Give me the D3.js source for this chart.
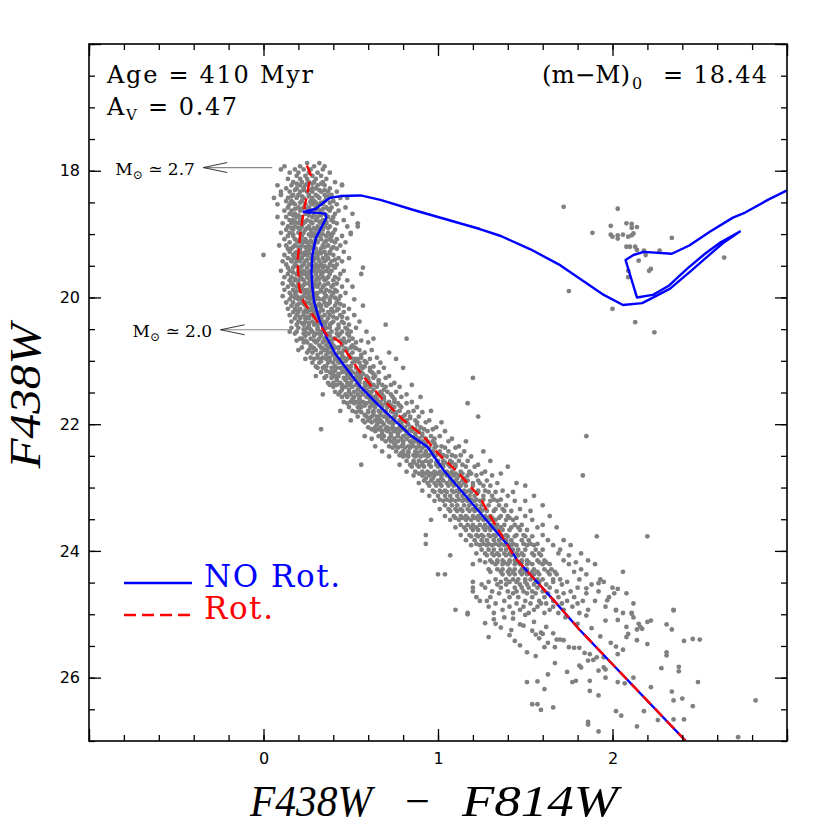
<!DOCTYPE html>
<html><head><meta charset="utf-8">
<script src="https://cdn.jsdelivr.net/npm/d3@7/dist/d3.min.js"></script>
<style>body{margin:0;background:#fff}</style>
</head><body>
<svg id="chart" width="830" height="830"></svg>
<script>
// ---------- data ----------
const xTickLabels = [0, 1, 2];
const yTickLabels = [18, 20, 22, 24, 26];

// isochrone without rotation: [colour, magnitude]
const noRot = [[2.42,27.0],[1.81,25.24],[1.67,24.80],[1.455,24.15],[1.40,23.91],[1.17,23.17],[1.03,22.72],[0.94,22.36],[0.84,22.17],[0.67,21.73],[0.556,21.41],[0.48,21.14],[0.41,20.88],[0.36,20.62],[0.32,20.35],[0.29,20.07],[0.28,19.85],[0.275,19.6],[0.28,19.33],[0.30,19.06],[0.34,18.85],[0.36,18.74],[0.355,18.68],[0.32,18.665],[0.26,18.66],[0.23,18.65],[0.30,18.60],[0.34,18.51],[0.38,18.43],[0.44,18.40],[0.556,18.39],[0.67,18.46],[0.86,18.62],[1.05,18.77],[1.24,18.92],[1.36,19.03],[1.53,19.24],[1.70,19.49],[1.95,19.96],[2.06,20.12],[2.17,20.09],[2.24,19.99],[2.33,19.86],[2.45,19.58],[2.55,19.34],[2.63,19.15],[2.73,18.96],[2.62,19.13],[2.53,19.31],[2.43,19.54],[2.32,19.82],[2.23,19.96],[2.14,20.0],[2.075,19.41],[2.12,19.33],[2.18,19.28],[2.34,19.31],[2.44,19.18],[2.56,18.96],[2.69,18.74],[2.76,18.66],[2.89,18.46],[3.05,18.24]];

// isochrone with rotation
const rot = [[2.42,27.0],[1.81,25.24],[1.67,24.80],[1.455,24.15],[1.415,23.99],[1.28,23.36],[1.24,23.15],[1.11,22.75],[1.0,22.46],[0.92,22.2],[0.80,21.93],[0.67,21.57],[0.556,21.19],[0.48,20.88],[0.44,20.71],[0.41,20.65],[0.37,20.62],[0.33,20.46],[0.28,20.27],[0.23,20.07],[0.205,19.85],[0.195,19.44],[0.21,19.01],[0.23,18.65],[0.255,18.30],[0.27,18.06],[0.24,17.86]];

// observed stars: [magnitude, [colours]]
const starRows = [
[17.88,[0.25,0.32]],
[17.93,[0.12,0.21,0.29,0.35]],
[17.98,[0.10,0.18,0.23,0.27,0.34]],
[18.03,[0.15,0.20,0.26,0.31,0.38]],
[18.08,[0.19,0.24,0.28,0.33]],
[18.13,[0.14,0.21,0.25,0.30,0.36]],
[18.18,[0.17,0.22,0.26,0.29,0.34,0.41]],
[18.23,[0.08,0.16,0.21,0.24,0.31,0.35,0.45]],
[18.28,[0.13,0.19,0.23,0.28,0.30,0.38]],
[18.33,[0.10,0.15,0.21,0.25,0.28,0.33,0.37,0.42]],
[18.38,[0.10,0.17,0.20,0.26,0.30,0.35,0.39]],
[18.43,[0.06,0.14,0.19,0.23,0.28,0.32,0.36,0.44,0.48]],
[18.48,[0.13,0.16,0.22,0.27,0.29,0.35,0.40]],
[18.53,[0.08,0.15,0.18,0.24,0.28,0.31,0.34,0.42]],
[18.58,[0.14,0.20,0.23,0.26,0.30,0.36,0.39,0.47]],
[18.63,[0.12,0.16,0.21,0.27,0.29,0.33,0.38,0.43]],
[18.68,[0.15,0.18,0.24,0.26,0.32,0.35,0.41,0.51]],
[18.73,[0.08,0.13,0.19,0.22,0.28,0.31,0.37,0.40]],
[18.78,[0.15,0.17,0.21,0.25,0.30,0.34,0.39,0.46]],
[18.83,[0.11,0.16,0.20,0.23,0.28,0.33,0.36,0.42,0.54]],
[18.88,[0.14,0.18,0.22,0.26,0.31,0.35,0.38,0.48]],
[18.93,[0.13,0.17,0.21,0.24,0.27,0.30,0.34,0.41]],
[18.98,[0.10,0.15,0.20,0.23,0.28,0.32,0.37,0.40,0.50]],
[19.03,[0.14,0.17,0.22,0.27,0.29,0.32,0.36,0.39,0.45]],
[19.08,[0.12,0.18,0.21,0.24,0.30,0.33,0.38,0.42]],
[19.13,[0.15,0.20,0.23,0.25,0.28,0.31,0.35,0.41,0.47]],
[19.18,[0.09,0.13,0.18,0.22,0.26,0.29,0.34,0.37,0.44]],
[19.23,[0.14,0.16,0.21,0.25,0.27,0.30,0.33,0.39,0.42]],
[19.28,[0.15,0.19,0.21,0.24,0.26,0.32,0.35,0.38,0.46]],
[19.33,[0.00,0.12,0.17,0.20,0.23,0.25,0.28,0.31,0.36,0.40]],
[19.38,[0.14,0.18,0.22,0.27,0.29,0.31,0.34,0.37,0.43,0.49]],
[19.43,[0.11,0.16,0.19,0.21,0.24,0.28,0.32,0.35,0.39,0.45]],
[19.48,[0.13,0.18,0.23,0.26,0.27,0.30,0.33,0.38,0.42]],
[19.53,[0.14,0.17,0.21,0.25,0.29,0.31,0.34,0.37,0.41,0.57]],
[19.58,[0.10,0.15,0.20,0.23,0.27,0.29,0.32,0.36,0.39,0.46]],
[19.63,[0.14,0.19,0.22,0.24,0.26,0.30,0.33,0.38,0.44,0.56]],
[19.68,[0.12,0.16,0.21,0.25,0.28,0.31,0.34,0.37,0.41]],
[19.73,[0.15,0.18,0.20,0.23,0.27,0.30,0.35,0.40,0.48]],
[19.78,[0.11,0.16,0.20,0.24,0.26,0.29,0.32,0.37,0.42]],
[19.83,[0.14,0.19,0.22,0.27,0.29,0.31,0.34,0.39,0.45,0.51]],
[19.88,[0.12,0.17,0.21,0.23,0.25,0.28,0.33,0.36,0.41]],
[19.93,[0.15,0.18,0.24,0.26,0.29,0.31,0.35,0.40,0.47]],
[19.98,[0.11,0.16,0.19,0.23,0.26,0.28,0.30,0.36,0.39,0.44]],
[20.03,[0.15,0.20,0.22,0.27,0.30,0.32,0.34,0.38,0.43,0.52]],
[20.08,[0.13,0.17,0.22,0.24,0.26,0.29,0.35,0.38,0.42]],
[20.13,[0.16,0.19,0.24,0.28,0.31,0.33,0.36,0.41,0.46,0.57]],
[20.18,[0.14,0.18,0.21,0.26,0.28,0.30,0.33,0.39,0.43,0.49]],
[20.23,[0.17,0.20,0.23,0.25,0.29,0.32,0.37,0.40,0.46]],
[20.28,[0.15,0.19,0.23,0.27,0.29,0.31,0.35,0.38,0.44,0.52]],
[20.33,[0.18,0.21,0.24,0.26,0.30,0.33,0.37,0.42,0.48]],
[20.38,[0.16,0.20,0.24,0.28,0.32,0.34,0.36,0.40,0.45,0.55]],
[20.43,[0.19,0.23,0.26,0.29,0.31,0.35,0.38,0.43,0.49,0.70]],
[20.48,[0.16,0.20,0.25,0.26,0.31,0.36,0.38,0.43,0.47,0.53]],
[20.54,[0.15,0.19,0.24,0.28,0.33,0.34,0.39,0.45,0.50,0.59]],
[20.57,[0.18,0.23,0.26,0.30,0.32,0.37,0.42,0.44,0.48]],
[20.65,[0.21,0.22,0.27,0.32,0.35,0.40,0.41,0.46,0.51,0.63,0.82]],
[20.68,[0.19,0.24,0.29,0.31,0.35,0.38,0.44,0.49,0.56]],
[20.71,[0.23,0.25,0.30,0.34,0.37,0.39,0.45,0.47,0.53,0.60]],
[20.79,[0.22,0.27,0.28,0.33,0.38,0.41,0.43,0.50,0.52]],
[20.83,[0.20,0.26,0.30,0.35,0.36,0.40,0.46,0.48,0.55,0.62]],
[20.87,[0.25,0.28,0.33,0.37,0.39,0.43,0.45,0.51,0.58,0.72]],
[20.95,[0.27,0.31,0.34,0.38,0.42,0.46,0.49,0.50,0.56,0.65]],
[20.97,[0.24,0.29,0.33,0.36,0.41,0.44,0.48,0.52,0.54,0.61,0.76]],
[21.03,[0.28,0.32,0.37,0.40,0.43,0.45,0.51,0.55,0.59,0.67]],
[21.09,[0.30,0.35,0.36,0.41,0.46,0.48,0.50,0.56,0.58,0.63]],
[21.11,[0.31,0.34,0.39,0.42,0.44,0.49,0.53,0.57,0.61,0.69,0.80]],
[21.18,[0.33,0.38,0.40,0.45,0.47,0.51,0.54,0.56,0.62,0.66]],
[21.24,[0.30,0.36,0.41,0.43,0.48,0.50,0.55,0.59,0.64,0.72]],
[21.27,[0.35,0.39,0.42,0.46,0.49,0.53,0.56,0.60,0.63,0.70,1.20]],
[21.35,[0.37,0.40,0.44,0.48,0.50,0.55,0.58,0.61,0.66,0.75]],
[21.38,[0.38,0.42,0.45,0.49,0.53,0.54,0.59,0.63,0.68,0.73,0.85]],
[21.41,[0.40,0.45,0.47,0.51,0.55,0.58,0.61,0.65,0.70,0.78]],
[21.49,[0.41,0.44,0.49,0.52,0.56,0.60,0.62,0.67,0.71,0.76]],
[21.53,[0.34,0.43,0.47,0.50,0.54,0.57,0.61,0.65,0.68,0.73,0.82]],
[21.57,[0.45,0.48,0.52,0.55,0.59,0.62,0.64,0.69,0.74,0.79,0.90]],
[21.65,[0.46,0.50,0.53,0.57,0.61,0.63,0.67,0.72,0.75,0.85]],
[21.67,[0.48,0.52,0.55,0.59,0.62,0.65,0.70,0.71,0.77,0.82,1.17]],
[21.73,[0.49,0.54,0.56,0.61,0.64,0.68,0.71,0.75,0.79,0.88]],
[21.79,[0.44,0.51,0.55,0.60,0.63,0.66,0.70,0.73,0.78,0.86,0.96]],
[21.81,[0.53,0.56,0.60,0.63,0.67,0.70,0.74,0.76,0.83,0.91]],
[21.88,[0.54,0.59,0.62,0.65,0.69,0.72,0.75,0.80,0.84,0.89,1.23]],
[21.94,[0.50,0.57,0.60,0.64,0.67,0.71,0.74,0.78,0.82,0.87,0.95]],
[21.97,[0.58,0.62,0.66,0.68,0.72,0.75,0.79,0.82,0.88,0.93,1.02]],
[22.05,[0.60,0.64,0.67,0.71,0.74,0.78,0.81,0.85,0.90,0.99]],
[22.08,[0.33,0.62,0.66,0.70,0.73,0.76,0.80,0.84,0.87,0.92,0.97]],
[22.11,[0.64,0.68,0.71,0.75,0.78,0.82,0.85,0.89,0.94,1.04]],
[22.19,[0.58,0.66,0.69,0.73,0.77,0.80,0.84,0.87,0.91,0.96,1.01,1.85]],
[22.23,[0.62,0.68,0.72,0.75,0.79,0.82,0.86,0.89,0.93,0.98,1.08]],
[22.27,[0.70,0.73,0.77,0.80,0.84,0.87,0.91,0.94,0.97,1.06,1.16]],
[22.35,[0.64,0.72,0.76,0.79,0.83,0.86,0.89,0.93,0.99,1.02,1.12]],
[22.37,[0.74,0.77,0.81,0.84,0.88,0.91,0.95,0.98,1.04,1.10]],
[22.43,[0.68,0.76,0.80,0.83,0.87,0.90,0.93,0.97,1.01,1.06,1.15,1.26]],
[22.49,[0.78,0.81,0.86,0.88,0.92,0.95,0.99,1.03,1.08,1.13]],
[22.51,[0.72,0.80,0.83,0.87,0.90,0.94,0.98,1.02,1.05,1.10,1.19]],
[22.58,[0.82,0.86,0.89,0.93,0.96,1.00,1.03,1.07,1.12,1.17,1.30]],
[22.64,[0.56,0.78,0.84,0.88,0.91,0.95,0.99,1.02,1.06,1.10,1.14,1.23]],
[22.67,[0.85,0.89,0.92,0.96,1.00,1.03,1.07,1.10,1.16,1.21,1.40]],
[22.75,[0.82,0.87,0.91,0.94,0.98,1.01,1.05,1.08,1.13,1.18,1.27]],
[22.78,[0.89,0.93,0.96,1.00,1.03,1.07,1.10,1.14,1.19,1.25,1.36]],
[22.81,[0.86,0.91,0.95,0.98,1.02,1.05,1.09,1.12,1.17,1.22,1.31,1.83]],
[22.89,[0.92,0.96,1.00,1.03,1.07,1.10,1.14,1.17,1.23,1.28]],
[22.93,[0.89,0.94,0.98,1.01,1.05,1.08,1.12,1.15,1.20,1.24,1.34,1.45]],
[22.97,[0.95,0.99,1.02,1.06,1.09,1.13,1.16,1.20,1.26,1.30,1.50]],
[23.05,[0.91,0.97,1.01,1.04,1.08,1.11,1.15,1.18,1.23,1.27,1.37]],
[23.07,[0.98,1.02,1.05,1.09,1.12,1.16,1.19,1.23,1.29,1.33,1.43]],
[23.13,[0.95,1.00,1.04,1.07,1.11,1.14,1.18,1.21,1.26,1.31,1.40,1.55]],
[23.19,[1.01,1.05,1.08,1.12,1.15,1.19,1.22,1.26,1.32,1.36]],
[23.21,[0.98,1.03,1.07,1.10,1.14,1.17,1.21,1.24,1.30,1.34,1.44,1.50]],
[23.28,[1.04,1.08,1.11,1.15,1.18,1.22,1.25,1.29,1.35,1.39,1.60]],
[23.34,[1.01,1.06,1.10,1.13,1.17,1.20,1.24,1.27,1.33,1.37,1.47]],
[23.37,[1.07,1.11,1.14,1.18,1.21,1.25,1.28,1.32,1.38,1.42,1.53]],
[23.45,[1.04,1.09,1.13,1.16,1.20,1.23,1.27,1.30,1.36,1.40,1.50,1.64]],
[23.48,[1.10,1.14,1.17,1.21,1.24,1.28,1.31,1.35,1.41,1.45]],
[23.51,[0.96,1.07,1.12,1.16,1.19,1.23,1.26,1.30,1.33,1.39,1.43,1.54]],
[23.59,[1.13,1.17,1.20,1.24,1.27,1.31,1.34,1.38,1.44,1.48,1.60]],
[23.63,[1.10,1.15,1.19,1.22,1.26,1.29,1.33,1.36,1.42,1.46,1.57,1.68]],
[23.67,[1.16,1.20,1.23,1.27,1.30,1.34,1.37,1.41,1.47,1.51]],
[23.75,[0.93,1.13,1.18,1.22,1.25,1.29,1.32,1.36,1.39,1.45,1.49,1.60]],
[23.77,[1.19,1.23,1.26,1.30,1.33,1.37,1.40,1.44,1.50,1.54,1.91,2.20]],
[23.83,[1.16,1.21,1.25,1.28,1.32,1.35,1.39,1.42,1.48,1.52,1.63,1.72]],
[23.89,[0.93,1.22,1.26,1.29,1.33,1.36,1.40,1.43,1.49,1.53,1.57]],
[23.91,[1.19,1.24,1.28,1.31,1.35,1.38,1.42,1.45,1.51,1.55,1.66,1.76]],
[23.98,[1.25,1.29,1.32,1.36,1.39,1.43,1.46,1.50,1.56,1.60,1.70]],
[24.04,[1.22,1.27,1.31,1.34,1.38,1.41,1.45,1.48,1.54,1.58,1.69,1.82]],
[24.07,[1.07,1.28,1.32,1.35,1.39,1.42,1.46,1.49,1.55,1.59,1.75]],
[24.15,[1.24,1.30,1.34,1.37,1.41,1.44,1.48,1.51,1.57,1.61,1.72,1.86]],
[24.18,[1.27,1.31,1.34,1.38,1.41,1.45,1.48,1.52,1.58,1.62,1.79]],
[24.21,[1.20,1.33,1.37,1.40,1.44,1.47,1.51,1.54,1.60,1.64,1.75,1.90]],
[24.29,[1.29,1.34,1.37,1.41,1.44,1.48,1.51,1.55,1.61,1.65,1.82]],
[24.33,[1.30,1.36,1.40,1.43,1.47,1.50,1.54,1.57,1.63,1.67,1.78,2.06]],
[24.37,[1.00,1.04,1.37,1.41,1.44,1.48,1.51,1.55,1.58,1.64,1.68,1.85]],
[24.45,[1.33,1.39,1.43,1.46,1.50,1.53,1.57,1.60,1.66,1.70,1.81,1.93]],
[24.49,[1.20,1.29,1.36,1.41,1.45,1.50,1.56,1.58,1.66,1.74,1.95]],
[24.53,[1.25,1.34,1.39,1.47,1.51,1.55,1.62,1.71,1.88]],
[24.58,[1.20,1.27,1.36,1.44,1.48,1.52,1.57,1.64,1.80,2.00]],
[24.64,[1.20,1.31,1.40,1.45,1.49,1.54,1.60,1.68,1.76,1.92]],
[24.67,[1.35,1.43,1.51,1.56,1.63,1.72,1.85,2.08]],
[24.73,[1.22,1.30,1.41,1.46,1.54,1.61,1.69,1.78,1.98]],
[24.79,[1.24,1.28,1.38,1.50,1.58,1.66,1.74,1.83,1.90]],
[24.83,[1.33,1.45,1.53,1.59,1.62,1.71,1.80,2.12]],
[24.88,[1.29,1.41,1.49,1.57,1.66,1.77,1.96]],
[24.93,[1.10,1.37,1.47,1.55,1.64,1.72,1.86,2.02,2.35]],
[24.98,[1.17,1.32,1.43,1.52,1.61,1.69,1.81,2.11]],
// denser core of the upper main sequence
[18.205,[0.19,0.25,0.28,0.33]],
[18.305,[0.18,0.23,0.27,0.32,0.35]],
[18.405,[0.16,0.22,0.26,0.31,0.37]],
[18.505,[0.17,0.21,0.27,0.30,0.33,0.38]],
[18.605,[0.18,0.22,0.25,0.31,0.34,0.37]],
[18.705,[0.17,0.20,0.26,0.29,0.33,0.36]],
[18.805,[0.18,0.24,0.27,0.32,0.36,0.40]],
[18.905,[0.16,0.20,0.25,0.29,0.32,0.37]],
[19.005,[0.17,0.22,0.26,0.30,0.34,0.38]],
[19.105,[0.19,0.22,0.27,0.30,0.36,0.39]],
[19.205,[0.17,0.20,0.24,0.28,0.35,0.40]],
[19.305,[0.18,0.22,0.26,0.30,0.33,0.38]],
[19.405,[0.16,0.20,0.25,0.29,0.36,0.41]],
[19.505,[0.19,0.22,0.28,0.32,0.35,0.40]],
[19.605,[0.17,0.21,0.25,0.30,0.34,0.38]],
[19.705,[0.18,0.22,0.26,0.32,0.36,0.43]],
[19.805,[0.17,0.23,0.27,0.30,0.35,0.40]],
[19.905,[0.19,0.22,0.27,0.33,0.38,0.42]],
[20.005,[0.18,0.21,0.25,0.31,0.35,0.41]],
[20.105,[0.20,0.23,0.27,0.32,0.37,0.44]],
[20.205,[0.19,0.24,0.27,0.34,0.39,0.42]],
[20.305,[0.21,0.25,0.29,0.33,0.40,0.45]],
[20.405,[0.22,0.26,0.30,0.34,0.39,0.46]],
[20.505,[0.23,0.27,0.31,0.35,0.42,0.48]],
[20.605,[0.24,0.29,0.33,0.38,0.43,0.49]],
[20.755,[0.27,0.32,0.36,0.40,0.45,0.51]],
[20.805,[0.29,0.34,0.37,0.43,0.47,0.53]],
[20.905,[0.31,0.36,0.40,0.45,0.49,0.56]],
[21.005,[0.33,0.38,0.43,0.47,0.53,0.58]],
[21.155,[0.36,0.41,0.46,0.50,0.55,0.61]],
[21.205,[0.39,0.43,0.48,0.53,0.57,0.63]],
[21.305,[0.42,0.47,0.51,0.55,0.60,0.66]],
[21.455,[0.45,0.49,0.54,0.59,0.63,0.69]],
[21.605,[0.51,0.55,0.61,0.65,0.69,0.75]],
[21.705,[0.55,0.58,0.63,0.68,0.73,0.78]],
[21.855,[0.58,0.63,0.67,0.71,0.76,0.81]],
[21.905,[0.61,0.66,0.71,0.75,0.79,0.84]],
[22.005,[0.65,0.69,0.74,0.79,0.83,0.88]],
[22.155,[0.68,0.73,0.77,0.82,0.87,0.91]],
[22.305,[0.75,0.80,0.85,0.89,0.93,0.98]],
[22.455,[0.79,0.83,0.88,0.93,0.97,1.01]],
[22.605,[0.86,0.91,0.95,0.99,1.04,1.08]],
[22.855,[0.93,0.97,1.02,1.07,1.11,1.15]]
];

// scattered stars: [colour, magnitude]
const extraStars = [
[0.10,18.38],[0.45,18.22],[0.54,18.88],[0.50,19.0],
[1.72,18.57],[2.03,18.60],[1.99,18.87],[2.08,18.83],[2.11,18.84],[2.11,18.90],[2.14,18.89],[1.885,18.98],[1.99,19.01],[2.00,19.04],[2.03,19.02],[2.03,19.07],[2.06,19.01],[2.09,19.04],[2.11,19.02],[2.12,18.99],[2.34,19.06],[2.08,19.20],[2.10,19.20],[2.13,19.20],[2.14,19.25],[2.18,19.26],[2.19,19.33],[2.27,19.26],[2.15,19.42],[2.09,19.58],[2.09,19.68],[2.21,19.58],[2.22,19.55],[2.64,19.37],[1.75,19.90],[2.00,20.18],[2.13,20.39],[2.24,20.55],
[2.06,24.98],[2.12,25.05],[2.16,25.20],[2.20,25.12],[2.03,24.60],[2.01,24.67],[1.97,24.78],[1.92,24.51],[1.85,24.59],
[1.17,25.00],[1.27,25.14],[1.32,25.08],[1.33,25.15],[1.43,25.07],[1.42,25.25],[1.41,25.33],[1.47,25.16],[1.49,25.18],[1.50,25.01],[1.44,25.42],[1.47,25.49],[1.51,25.60],[1.56,25.66],[1.54,25.26],[1.56,25.32],[1.59,25.29],[1.60,25.31],[1.61,25.52],[1.63,25.45],[1.67,25.52],[1.67,25.77],[1.63,25.95],[1.68,25.40],[1.70,25.40],[1.72,25.41],[1.75,25.52],[1.78,25.53],[1.81,25.53],[1.74,25.91],[1.77,26.07],[1.79,26.05],[1.81,25.81],[1.82,25.84],[1.84,25.61],[1.87,25.63],[1.86,25.73],[1.89,25.72],[1.91,25.68],[1.87,26.05],[1.87,26.21],[1.92,25.89],[1.95,25.84],[1.96,25.87],[1.95,25.68],[1.96,26.00],[1.92,26.28],[1.92,26.85],[1.86,26.74],[1.86,26.70],[2.02,26.53],[2.05,26.60],[2.03,26.07],[2.07,26.09],[2.12,26.00],[2.03,25.63],[2.06,25.56],[2.02,25.51],[2.09,25.31],[2.08,25.36],[2.14,25.41],[2.08,25.20],[2.14,25.24],[2.17,25.23],[2.15,25.15],[2.11,24.99],[2.03,25.09],[2.02,24.94],[2.22,25.10],[2.20,25.47],[2.18,26.53],[2.14,26.77],[2.22,26.15],[2.28,25.85],[2.26,26.67],[2.31,25.16],[2.34,25.24],[2.35,24.94],[2.31,25.60],[2.31,25.65],[2.34,26.22],[2.35,26.36],[2.35,26.66],[2.38,25.90],[2.38,25.83],[2.40,26.33],[2.41,25.42],[2.41,26.66],[2.46,25.39],[2.50,25.40],[2.46,26.45],[2.49,26.07],[2.82,26.36],[2.72,26.94],[1.51,26.07],[1.57,26.06],[1.61,26.18],[1.54,26.42],[1.57,26.42],[1.59,26.51],[1.66,26.47],[1.38,25.05],[1.55,25.12],[1.62,25.20],[1.73,25.05],[1.80,25.15],[1.88,25.22],[1.58,25.38],[1.66,25.30],[1.93,25.35],[1.99,25.45],[1.36,25.21],[1.29,25.36],[1.85,25.02],[1.96,25.10]
];

// mass annotations
const massLabels = ["2.7", "2.0"];
const massMag = [17.95, 20.51];
const massFrom = [0.05, 0.15];
const massTo = [-0.345, -0.246];

// ---------- drawing ----------
const svg = d3.select("#chart");
const L = 89, T = 44, R = 787, B = 741;
const x = d3.scaleLinear().domain([-1, 3]).range([L, R]);
const y = d3.scaleLinear().domain([16, 27]).range([T, B]);

svg.append("rect").attr("width", 830).attr("height", 830).attr("fill", "#fff");
svg.append("defs").append("clipPath").attr("id", "clip").append("rect")
  .attr("x", L).attr("y", T).attr("width", R - L).attr("height", B - T);

const plot = svg.append("g").attr("clip-path", "url(#clip)");
const stars = starRows.flatMap(([m, cs]) => cs.map(c => [c, m])).concat(extraStars);
plot.append("g").selectAll("circle").data(stars).join("circle")
  .attr("cx", d => x(d[0])).attr("cy", d => y(d[1])).attr("r", 2.4).attr("fill", "#808080");

const line = d3.line().x(d => x(d[0])).y(d => y(d[1]));
plot.append("path").datum(noRot).attr("d", line).attr("fill", "none")
  .attr("stroke", "#0000ff").attr("stroke-width", 2.4).attr("stroke-linejoin", "round");
plot.append("path").datum(rot).attr("d", line).attr("fill", "none")
  .attr("stroke", "#ff0000").attr("stroke-width", 2.4).attr("stroke-dasharray", "11,6");

// axes
const xMinor = d3.range(-1, 3.0001, 0.2).map(v => +v.toFixed(2));
const xMajor = [-1, 0, 1, 2, 3];
const yMinor = d3.range(16, 27.0001, 0.5);
const yMajor = [16, 18, 20, 22, 24, 26];
const fmtX = v => xTickLabels.includes(v) ? String(v) : "";
const fmtY = v => yTickLabels.includes(v) ? String(v) : "";

function styleAxis(g) {
  g.select(".domain").remove();
  g.selectAll("line").attr("stroke", "#000").attr("stroke-width", 1.3);
  g.selectAll("text").attr("font-family", "DejaVu Sans, sans-serif").attr("font-size", 16).attr("fill", "#000");
}
svg.append("g").attr("transform", `translate(0,${B})`)
  .call(d3.axisBottom(x).tickValues(xMinor).tickSize(-6).tickFormat("")).call(styleAxis);
svg.append("g").attr("transform", `translate(0,${B})`)
  .call(d3.axisBottom(x).tickValues(xMajor).tickSize(-12).tickPadding(12).tickFormat(fmtX)).call(styleAxis);
svg.append("g").attr("transform", `translate(0,${T})`)
  .call(d3.axisTop(x).tickValues(xMinor).tickSize(-6).tickFormat("")).call(styleAxis);
svg.append("g").attr("transform", `translate(0,${T})`)
  .call(d3.axisTop(x).tickValues(xMajor).tickSize(-12).tickFormat("")).call(styleAxis);
svg.append("g").attr("transform", `translate(${L},0)`)
  .call(d3.axisLeft(y).tickValues(yMinor).tickSize(-6).tickFormat("")).call(styleAxis);
svg.append("g").attr("transform", `translate(${L},0)`)
  .call(d3.axisLeft(y).tickValues(yMajor).tickSize(-12).tickPadding(9).tickFormat(fmtY)).call(styleAxis);
svg.append("g").attr("transform", `translate(${R},0)`)
  .call(d3.axisRight(y).tickValues(yMinor).tickSize(-6).tickFormat("")).call(styleAxis);
svg.append("g").attr("transform", `translate(${R},0)`)
  .call(d3.axisRight(y).tickValues(yMajor).tickSize(-12).tickFormat("")).call(styleAxis);

svg.append("rect").attr("x", L).attr("y", T).attr("width", R - L).attr("height", B - T)
  .attr("fill", "none").attr("stroke", "#000").attr("stroke-width", 1.6);

// axis titles
const titleFont = "Liberation Serif, serif";
const xt = svg.append("g").attr("font-family", titleFont).attr("font-style", "italic").attr("font-size", 44).attr("fill", "#000");
xt.append("text").attr("x", 250).attr("y", 816).attr("textLength", 122).attr("lengthAdjust", "spacingAndGlyphs").text("F438W");
xt.append("text").attr("x", 417).attr("y", 816).attr("text-anchor", "middle").text("\u2212");
xt.append("text").attr("x", 462).attr("y", 816).attr("textLength", 156).attr("lengthAdjust", "spacingAndGlyphs").text("F814W");
svg.append("text").attr("transform", "translate(40,396) rotate(-90)").attr("text-anchor", "middle")
  .attr("font-family", titleFont).attr("font-style", "italic").attr("font-size", 44).attr("fill", "#000")
  .attr("textLength", 145).attr("lengthAdjust", "spacingAndGlyphs").text("F438W");

// info text
const serif = "DejaVu Serif, serif";
svg.append("text").attr("x", 107).attr("y", 83).attr("font-family", serif).attr("font-size", 24)
  .attr("textLength", 206).attr("lengthAdjust", "spacing").text("Age = 410 Myr");
svg.append("text").attr("x", 107).attr("y", 115).attr("font-family", serif).attr("font-size", 24).text("A");
svg.append("text").attr("x", 126).attr("y", 120).attr("font-family", serif).attr("font-size", 15).text("V");
svg.append("text").attr("x", 148).attr("y", 115).attr("font-family", serif).attr("font-size", 24)
  .attr("textLength", 89).attr("lengthAdjust", "spacing").text("= 0.47");
svg.append("text").attr("x", 542).attr("y", 83).attr("font-family", serif).attr("font-size", 24)
  .attr("textLength", 88).attr("lengthAdjust", "spacingAndGlyphs").text("(m\u2212M)");
svg.append("text").attr("x", 632).attr("y", 89).attr("font-family", serif).attr("font-size", 16).text("0");
svg.append("text").attr("x", 663).attr("y", 83).attr("font-family", serif).attr("font-size", 24)
  .attr("textLength", 104).attr("lengthAdjust", "spacing").text("= 18.44");

// mass annotations
massLabels.forEach((lab, i) => {
  const yy = y(massMag[i]), x0 = x(massFrom[i]), x1 = x(massTo[i]);
  svg.append("line").attr("x1", x0).attr("x2", x1).attr("y1", yy).attr("y2", yy)
    .attr("stroke", "#888").attr("stroke-width", 1.2);
  svg.append("path").attr("d", `M${x1 + 24},${yy - 5}L${x1},${yy}L${x1 + 24},${yy + 5}`)
    .attr("fill", "none").attr("stroke", "#222").attr("stroke-width", 0.9);
  const t = svg.append("text").attr("x", x1 - 88).attr("y", yy + 7).attr("font-family", serif).attr("font-size", 17);
  t.append("tspan").text("M");
  t.append("tspan").attr("dy", 4).attr("font-size", 12).text("\u2299");
  t.append("tspan").attr("dy", -4).text(" \u2243 " + lab);
});

// legend
svg.append("line").attr("x1", 124).attr("x2", 192).attr("y1", 583).attr("y2", 583)
  .attr("stroke", "#0000ff").attr("stroke-width", 2.4);
svg.append("text").attr("x", 204).attr("y", 587).attr("font-family", serif).attr("font-size", 31)
  .attr("fill", "#0000ff").attr("textLength", 136).attr("lengthAdjust", "spacing").text("NO Rot.");
svg.append("line").attr("x1", 124).attr("x2", 192).attr("y1", 615).attr("y2", 615)
  .attr("stroke", "#ff0000").attr("stroke-width", 2.4).attr("stroke-dasharray", "12,6");
svg.append("text").attr("x", 204).attr("y", 619).attr("font-family", serif).attr("font-size", 31)
  .attr("fill", "#ff0000").attr("textLength", 69).attr("lengthAdjust", "spacing").text("Rot.");
</script>
</body></html>
